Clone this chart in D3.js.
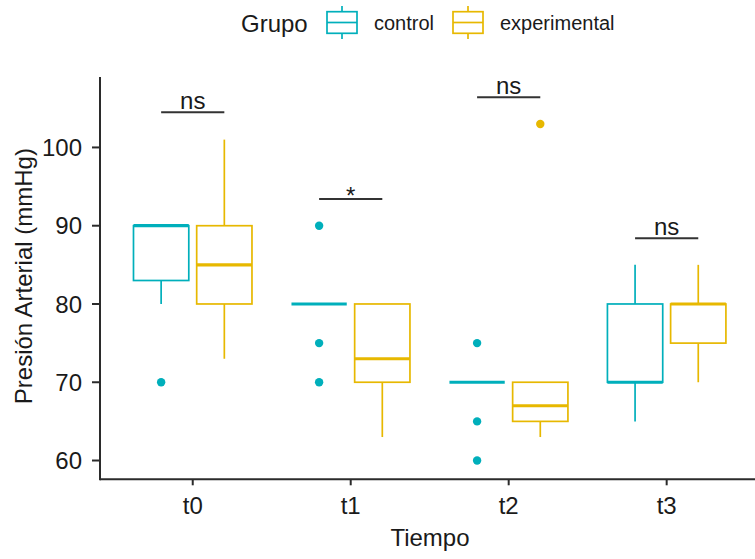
<!DOCTYPE html>
<html>
<head>
<meta charset="utf-8">
<script src="https://cdn.jsdelivr.net/npm/d3@7"></script>
<style>
  body { margin: 0; background: #fff; }
  text { font-family: "Liberation Sans", Arial, sans-serif; fill: #1a1a1a; }
</style>
</head>
<body>
<svg id="chart" width="755" height="559"></svg>
<script>
// categories and groups
var tiempos = ["t0", "t1", "t2", "t3"]
var grupos = ["control", "experimental"]
var colores = ["#00AFBB", "#E7B800"]

// box summaries per tiempo: [lower whisker, q1, median, q3, upper whisker]
var controlStats = [
  [80, 83, 90, 90, 90],
  [80, 80, 80, 80, 80],
  [70, 70, 70, 70, 70],
  [65, 70, 70, 80, 85]
]
var controlOutliers = [[70], [90, 75, 70], [75, 65, 60], []]

var experimentalStats = [
  [73, 80, 85, 90, 101],
  [63, 70, 73, 80, 80],
  [63, 65, 67, 70, 70],
  [70, 75, 80, 80, 85]
]
var experimentalOutliers = [[], [], [103], []]

// significance labels and bracket heights
var sigLabels = ["ns", "*", "ns", "ns"]
var bracketY = [104.5, 93.4, 106.4, 88.4]

var yTicks = [60, 70, 80, 90, 100]

var svg = d3.select("#chart")

var x = d3.scalePoint()
  .domain(tiempos)
  .range([100, 759.4])
  .padding(0.587)

var y = d3.scaleLinear()
  .domain([57.6, 109])
  .range([479.3, 77])

var step = x.step()
var boxW = step * 0.35
var offsets = [-step * 0.2, step * 0.2]

var series = [
  {stats: controlStats, outliers: controlOutliers},
  {stats: experimentalStats, outliers: experimentalOutliers}
]

// boxes
series.forEach(function(s, gi) {
  var col = colores[gi]
  var g = svg.append("g")
  tiempos.forEach(function(t, i) {
    var st = s.stats[i]
    var cx = x(t) + offsets[gi]
    // whiskers
    g.append("line")
      .attr("x1", cx).attr("x2", cx)
      .attr("y1", y(st[3])).attr("y2", y(st[4]))
      .attr("stroke", col).attr("stroke-width", 1.7)
    g.append("line")
      .attr("x1", cx).attr("x2", cx)
      .attr("y1", y(st[1])).attr("y2", y(st[0]))
      .attr("stroke", col).attr("stroke-width", 1.7)
    // box
    g.append("rect")
      .attr("x", cx - boxW / 2)
      .attr("y", y(st[3]))
      .attr("width", boxW)
      .attr("height", y(st[1]) - y(st[3]))
      .attr("fill", "white")
      .attr("stroke", col)
      .attr("stroke-width", 1.7)
    // median
    g.append("line")
      .attr("x1", cx - boxW / 2).attr("x2", cx + boxW / 2)
      .attr("y1", y(st[2])).attr("y2", y(st[2]))
      .attr("stroke", col).attr("stroke-width", 3.2)
    // outliers
    g.selectAll(null)
      .data(s.outliers[i])
      .enter()
      .append("circle")
      .attr("cx", cx)
      .attr("cy", function(d) { return y(d) })
      .attr("r", 4.2)
      .attr("fill", col)
  })
})

// significance brackets
tiempos.forEach(function(t, i) {
  var by = y(bracketY[i])
  svg.append("line")
    .attr("x1", x(t) + offsets[0]).attr("x2", x(t) + offsets[1])
    .attr("y1", by).attr("y2", by)
    .attr("stroke", "#333").attr("stroke-width", 2)
  var isStar = sigLabels[i] === "*"
  svg.append("text")
    .attr("x", x(t))
    .attr("y", isStar ? by + 5 : by - 3)
    .attr("text-anchor", "middle")
    .style("font-size", "24px")
    .text(sigLabels[i])
})

// axes
var axisCol = "#2b2b2b"
svg.append("line")
  .attr("x1", 100).attr("x2", 760)
  .attr("y1", y.range()[0]).attr("y2", y.range()[0])
  .attr("stroke", axisCol).attr("stroke-width", 2)
svg.append("line")
  .attr("x1", 100).attr("x2", 100)
  .attr("y1", y.range()[1]).attr("y2", y.range()[0] + 1)
  .attr("stroke", axisCol).attr("stroke-width", 2)

yTicks.forEach(function(v) {
  svg.append("line")
    .attr("x1", 92).attr("x2", 100)
    .attr("y1", y(v)).attr("y2", y(v))
    .attr("stroke", axisCol).attr("stroke-width", 2)
  svg.append("text")
    .attr("x", 82)
    .attr("y", y(v))
    .attr("dy", "0.36em")
    .attr("text-anchor", "end")
    .style("font-size", "24px")
    .text(v)
})

tiempos.forEach(function(t) {
  svg.append("line")
    .attr("x1", x(t)).attr("x2", x(t))
    .attr("y1", y.range()[0]).attr("y2", y.range()[0] + 6)
    .attr("stroke", axisCol).attr("stroke-width", 2)
  svg.append("text")
    .attr("x", x(t))
    .attr("y", 514)
    .attr("text-anchor", "middle")
    .style("font-size", "24px")
    .text(t)
})

// axis titles
svg.append("text")
  .attr("x", 430)
  .attr("y", 546)
  .attr("text-anchor", "middle")
  .style("font-size", "24px")
  .text("Tiempo")

svg.append("text")
  .attr("transform", "translate(32," + ((y.range()[0] + y.range()[1]) / 2 - 2) + ") rotate(-90)")
  .attr("text-anchor", "middle")
  .style("font-size", "24px")
  .text("Presión Arterial (mmHg)")

// legend
var legend = svg.append("g")
legend.append("text")
  .attr("x", 241)
  .attr("y", 32)
  .style("font-size", "24px")
  .text("Grupo")

var keyX = [327, 453]
var labelX = [374, 500]
grupos.forEach(function(gname, gi) {
  var col = colores[gi]
  var kx = keyX[gi]
  legend.append("line")
    .attr("x1", kx + 15).attr("x2", kx + 15)
    .attr("y1", 6).attr("y2", 39)
    .attr("stroke", col).attr("stroke-width", 1.7)
  legend.append("rect")
    .attr("x", kx).attr("y", 11.7)
    .attr("width", 30).attr("height", 21.6)
    .attr("fill", "white")
    .attr("stroke", col).attr("stroke-width", 1.7)
  legend.append("line")
    .attr("x1", kx).attr("x2", kx + 30)
    .attr("y1", 22.5).attr("y2", 22.5)
    .attr("stroke", col).attr("stroke-width", 1.7)
  legend.append("text")
    .attr("x", labelX[gi])
    .attr("y", 30)
    .style("font-size", "20px")
    .text(gname)
})
</script>
</body>
</html>
